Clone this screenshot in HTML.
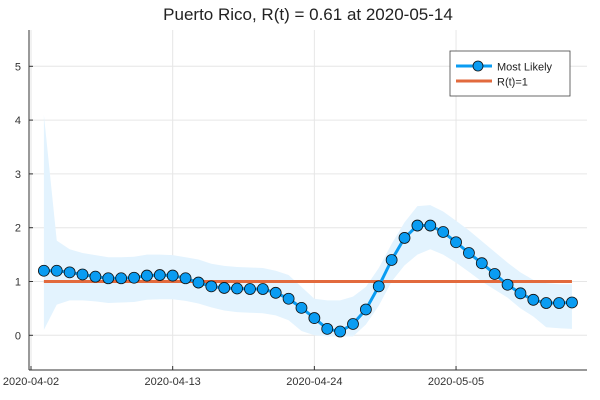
<!DOCTYPE html>
<html><head><meta charset="utf-8"><style>
body{margin:0;background:#fff}
svg{display:block;font-family:"Liberation Sans",sans-serif}
</style></head><body>
<svg id="chart" width="600" height="400" viewBox="0 0 600 400">
<text x="308" y="20" font-size="17" text-anchor="middle" fill="#222">Puerto Rico, R(t) = 0.61 at 2020-05-14</text>
<g id="grid"></g>
<g id="band"></g>
<g id="ref"></g>
<g id="series"></g>
<g id="axes"></g>
<g>
<rect x="450" y="51" width="120" height="45" fill="#fff" stroke="#444" stroke-width="0.8"/>
<line x1="456" y1="66" x2="492" y2="66" stroke="#0a9cf2" stroke-width="3"/>
<circle cx="478" cy="66" r="5" fill="#0a9cf2" stroke="#111" stroke-width="0.8"/>
<text x="497" y="70.5" font-size="11" fill="#222">Most Likely</text>
<line x1="456" y1="81" x2="492" y2="81" stroke="#e26a3d" stroke-width="3"/>
<text x="497" y="85.5" font-size="11" fill="#222">R(t)=1</text>
</g>
</svg>
<script>
const days=[1,2,3,4,5,6,7,8,9,10,11,12,13,14,15,16,17,18,19,20,21,22,23,24,25,26,27,28,29,30,31,32,33,34,35,36,37,38,39,40,41,42];
const rt=[1.20,1.20,1.17,1.13,1.09,1.06,1.06,1.07,1.11,1.12,1.11,1.06,0.98,0.91,0.88,0.87,0.86,0.86,0.79,0.68,0.51,0.32,0.12,0.07,0.21,0.48,0.91,1.40,1.81,2.04,2.04,1.92,1.73,1.53,1.34,1.14,0.94,0.78,0.66,0.60,0.60,0.61];
const upper=[4.1,1.76,1.6,1.53,1.49,1.45,1.45,1.46,1.5,1.5,1.49,1.45,1.41,1.33,1.29,1.27,1.26,1.25,1.2,1.12,0.9,0.68,0.65,0.65,0.72,0.9,1.25,1.7,2.1,2.4,2.42,2.3,2.13,1.95,1.75,1.55,1.35,1.17,1.03,0.97,0.95,0.95];
const lower=[0.1,0.57,0.65,0.65,0.63,0.6,0.61,0.62,0.66,0.67,0.67,0.64,0.59,0.52,0.46,0.43,0.42,0.41,0.37,0.28,0.08,0.0,-0.02,-0.02,-0.02,0.2,0.55,1.0,1.3,1.5,1.6,1.5,1.35,1.18,1.0,0.85,0.7,0.5,0.35,0.15,0.13,0.12];
const yTicks=[0,1,2,3,4,5];
const xTickDays=[0,11,22,33];
const xTickLabels=["2020-04-02","2020-04-13","2020-04-24","2020-05-05"];
const refValue=1;
const NS="http://www.w3.org/2000/svg";
const X=d=>31+12.88*d, Y=v=>335.3-53.8*v;
const L=29,R=587,T=30,B=370;
function mk(tag,attrs,parent){const e=document.createElementNS(NS,tag);for(const k in attrs)e.setAttribute(k,attrs[k]);parent.appendChild(e);return e;}
const grid=document.getElementById('grid'),axes=document.getElementById('axes');
yTicks.forEach(v=>{
 const g=mk('line',{x1:L,x2:R,y1:Y(v),y2:Y(v),stroke:'#e6e6e6','stroke-width':1},grid);
 
 
 const t=mk('text',{x:L-8,y:Y(v)+4,'font-size':11,'text-anchor':'end',fill:'#333'},axes);
 t.textContent=v;
 
 
 mk('line',{x1:L,x2:L+4,y1:Y(v),y2:Y(v),stroke:'#333'},axes);
});
xTickDays.forEach((d,i)=>{
 const g=mk('line',{x1:X(d),x2:X(d),y1:T,y2:B,stroke:'#e6e6e6','stroke-width':1},grid);
 
 
 mk('line',{x1:X(d),x2:X(d),y1:B,y2:B-4,stroke:'#333'},axes);
 const t=mk('text',{x:X(d),y:385,'font-size':11,'text-anchor':'middle',fill:'#333'},axes);
 t.textContent=xTickLabels[i];
 
 
});
mk('line',{x1:L,x2:L,y1:T,y2:B,stroke:'#333','stroke-width':1},axes);
mk('line',{x1:L,x2:R,y1:B,y2:B,stroke:'#333','stroke-width':1},axes);
let pts=days.map((d,i)=>X(d)+','+Y(upper[i]));
for(let i=days.length-1;i>=0;i--)pts.push(X(days[i])+','+Y(lower[i]));
const band=mk('polygon',{points:pts.join(' '),fill:'#e3f3fe'},document.getElementById('band'));


const rl=mk('line',{x1:X(days[0]),x2:X(days[days.length-1]),y1:Y(refValue),y2:Y(refValue),stroke:'#e26a3d','stroke-width':3},document.getElementById('ref'));


const s=document.getElementById('series');
const pl=mk('polyline',{points:days.map((d,i)=>X(d)+','+Y(rt[i])).join(' '),fill:'none',stroke:'#0a9cf2','stroke-width':3},s);


days.forEach((d,i)=>{
 const c=mk('circle',{cx:X(d),cy:Y(rt[i]),r:5.5,fill:'#0a9cf2',stroke:'#111','stroke-width':0.8},s);
 
 
});
</script>
</body></html>
